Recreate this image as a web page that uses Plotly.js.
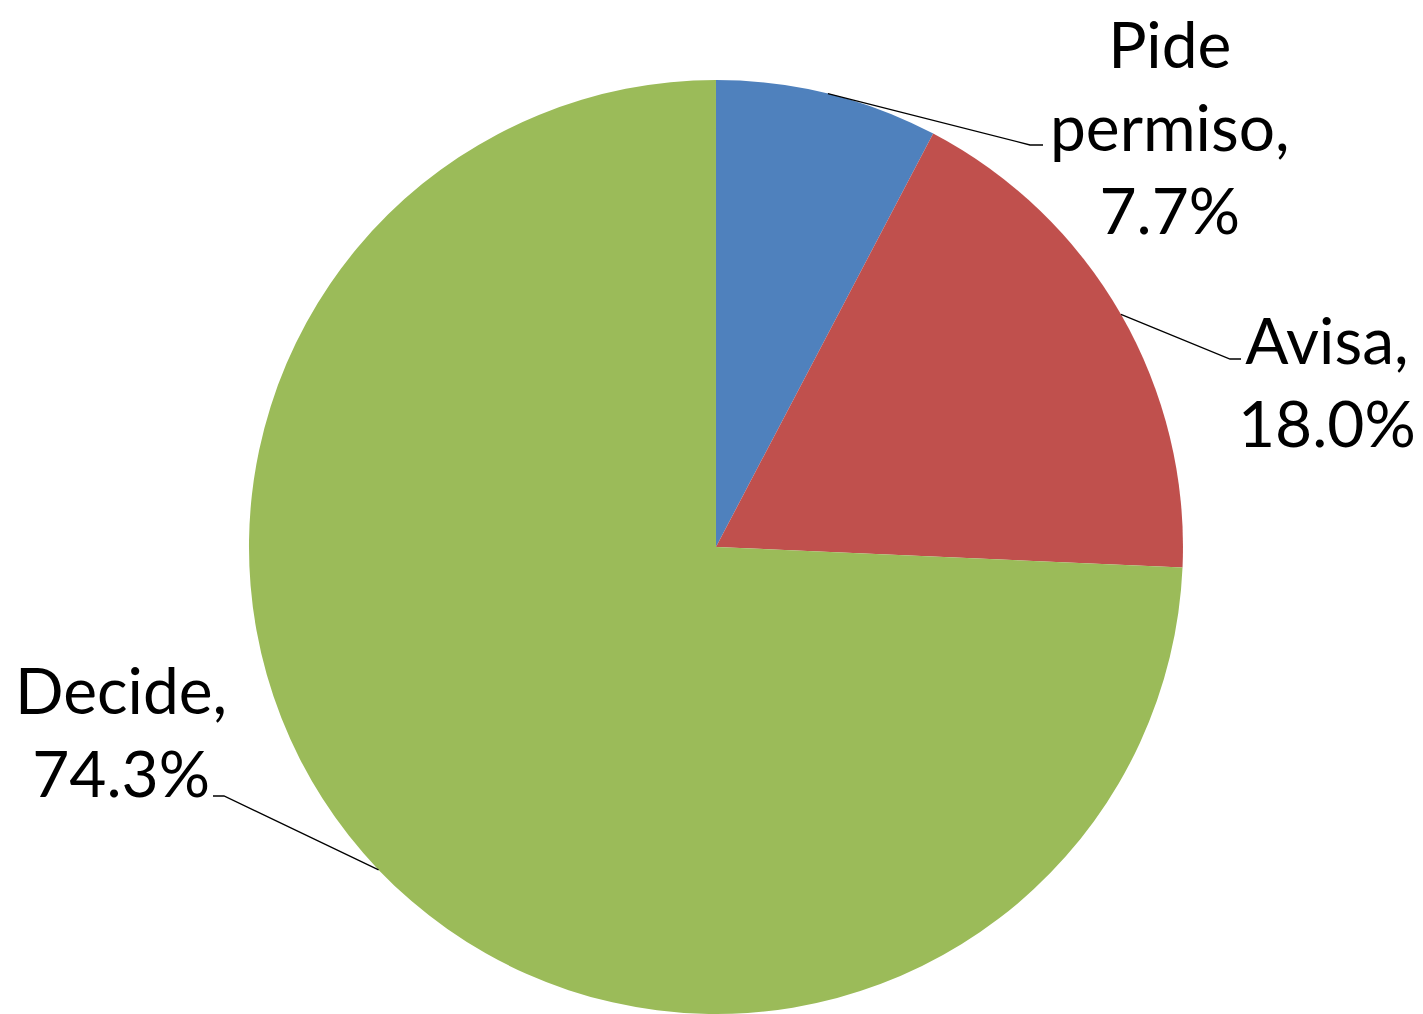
<!DOCTYPE html>
<html>
<head>
<meta charset="utf-8">
<script src="https://cdn.plot.ly/plotly-3.0.1.min.js"></script>
<style>html,body{margin:0;padding:0;background:#fff;}#chart{width:1423px;height:1014px;}</style>
</head>
<body>
<div id="chart"></div>
<script>
const categories = ["Pide permiso", "Avisa", "Decide"];
const labelLines = ["Pide<br>permiso,", "Avisa,", "Decide,"];
const values = [7.7, 18.0, 74.3];
const colors = ["#4F81BD", "#C0504D", "#9BBB59"];

const W = 1423, H = 1014;
const cx = 716, cy = 547, R = 467;
// label block centers (px) and leader elbow / end points (px)
const labelPos = [[1170, 127], [1327, 381], [121, 731]];
const elbows = [[1030, 145, 1043], [1230, 359, 1241], [224, 796, 213]];

const total = values.reduce((a, b) => a + b, 0);
const px = x => x / W, py = y => 1 - y / H;

const shapes = [], annotations = [];
let cum = 0;
values.forEach((v, i) => {
  const mid = (cum + v / 2) / total * 2 * Math.PI;
  cum += v;
  const ex = cx + R * Math.sin(mid), ey = cy - R * Math.cos(mid);
  const [bx, by, endx] = elbows[i];
  shapes.push({
    type: "path", xref: "paper", yref: "paper",
    path: `M ${px(ex)} ${py(ey)} L ${px(bx)} ${py(by)} L ${px(endx)} ${py(by)}`,
    line: {color: "#000", width: 1.3}
  });
  annotations.push({
    xref: "paper", yref: "paper", x: px(labelPos[i][0]), y: py(labelPos[i][1]),
    xanchor: "center", yanchor: "middle", showarrow: false, align: "center",
    borderpad: 0,
    text: labelLines[i] + "<br>" + v.toFixed(1) + "%",
    font: {family: "Lato, 'Open Sans', sans-serif", size: 64, color: "#000"}
  });
});

const data = [{
  type: "pie",
  labels: categories,
  values: values,
  sort: false,
  direction: "clockwise",
  rotation: 0,
  marker: {colors: colors, line: {color: "#fff", width: 0}},
  textinfo: "none",
  hoverinfo: "label+percent",
  showlegend: false,
  domain: {x: [0.0063, 1], y: [0, 0.9211]}
}];

const layout = {
  width: W, height: H,
  margin: {l: 0, r: 0, t: 0, b: 0},
  paper_bgcolor: "#fff",
  showlegend: false,
  shapes: shapes,
  annotations: annotations
};

Plotly.newPlot("chart", data, layout, {displayModeBar: false, staticPlot: true});
</script>
</body>
</html>
